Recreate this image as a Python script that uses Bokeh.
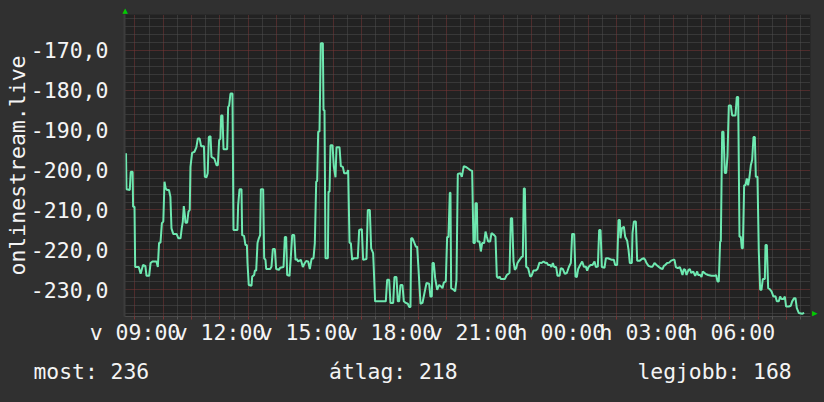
from bokeh.plotting import figure
from bokeh.models import FixedTicker, Range1d, Title, GlobalInlineStyleSheet
from bokeh.embed import file_html
from bokeh.resources import INLINE

# ---- data: minutes since 00:00 of the first day, and measured value ----
times = [
    521, 522, 529, 531, 535, 536, 539, 540.4, 548, 552,
    557, 562, 564.4, 570, 573, 577, 585.5, 588.4, 591, 594,
    597, 600, 602.5, 605, 608, 612, 615, 617.3, 621, 628,
    632, 636.4, 639, 641.3, 643.4, 645.6, 647, 650.5, 653.3, 656,
    657.5, 661, 666, 670, 673, 677, 680, 686, 688, 691.5,
    694, 696.4, 700, 702, 708, 712.6, 715.5, 718.3, 721, 722.5,
    725.3, 727.5, 735.2, 737.3, 739.5, 742.3, 746.5, 748.6, 757, 758.5,
    761.4, 765.6, 767, 771, 774, 777, 778.3, 781, 786.8, 788.2,
    792.4, 793.9, 796.7, 799.5, 802.3, 805.1, 806.6, 811.5, 813.6, 816.4,
    817.9, 826.3, 829.1, 832, 836.2, 839, 844.7, 847.5, 854.6, 857.4,
    860.2, 862.3, 867.3, 870.1, 873, 877.2, 880, 882.8, 885.6, 891.3,
    895.5, 899.7, 902.6, 906.8, 910.3, 913.9, 918.1, 920.9, 923.8, 925.9,
    928, 930.8, 933.6, 937.9, 939.3, 941.4, 943.5, 948.5, 949.9, 952,
    954.1, 958.4, 961.2, 964.7, 966.8, 973.2, 976, 980.2, 983.1, 988.7,
    991.5, 994.4, 997.2, 1000, 1003.5, 1011.9, 1014.8, 1020.4, 1023.2, 1030.3,
    1033.1, 1037.4, 1040.2, 1044.4, 1048.6, 1071.2, 1074.1, 1078.3, 1081.1, 1086.8,
    1089.6, 1093.8, 1096.7, 1099.5, 1102.3, 1106.5, 1109.4, 1113.6, 1117.8, 1120.7,
    1123.5, 1124.9, 1127.7, 1130.5, 1134.8, 1137.6, 1140.4, 1144.7, 1148.9, 1153.1,
    1157.4, 1163, 1165.8, 1168.7, 1170.1, 1172.9, 1175.8, 1180, 1184.2, 1187,
    1191.3, 1194.1, 1198.3, 1201.1, 1203.9, 1206.8, 1208.2, 1209.6, 1215.3, 1218.1,
    1220.9, 1223.7, 1229.4, 1232.2, 1236.4, 1240.7, 1245.6, 1249.9, 1254.1, 1256.9,
    1259.8, 1261.2, 1264, 1265.4, 1269.7, 1272.5, 1275.3, 1279.5, 1282.4, 1285.2,
    1288, 1292.2, 1295.1, 1300.7, 1303.5, 1306.4, 1309.2, 1312, 1314.8, 1323.3,
    1327.5, 1333.2, 1336, 1338.8, 1341.7, 1344.5, 1347.3, 1350.1, 1354.4, 1358.6,
    1361.4, 1363.5, 1365.7, 1368.5, 1372.7, 1377, 1379.8, 1384, 1388.3, 1392.5,
    1396.7, 1401, 1405.2, 1409.4, 1412.3, 1415.1, 1419.3, 1422.1, 1425, 1427.8,
    1432, 1434.9, 1439.1, 1441.9, 1446.2, 1450.4, 1454.6, 1458.9, 1463.1, 1465.9,
    1470.2, 1473, 1475.8, 1478.6, 1482.9, 1487.1, 1490.7, 1494.9, 1497.7, 1500.5,
    1504.8, 1509, 1513.3, 1516.1, 1520.3, 1523.1, 1526, 1528.8, 1534.4, 1537.3,
    1541.5, 1545.7, 1550, 1554.2, 1557, 1561.2, 1564.1, 1566.9, 1568.3, 1571.1,
    1575.4, 1578.2, 1582.4, 1585.3, 1588.1, 1592.3, 1593.7, 1596.6, 1600.8, 1603.6,
    1609.3, 1613.5, 1617.7, 1620.6, 1623.4, 1627.6, 1631.9, 1636.1, 1640.3, 1644.6,
    1648.8, 1653, 1657.3, 1660.1, 1662.9, 1667.2, 1671.4, 1675.6, 1679.9, 1682.7,
    1685.5, 1689.8, 1694, 1696.8, 1699.6, 1702.5, 1705.3, 1708.1, 1712.3, 1715.2,
    1718, 1722.2, 1726.5, 1730.7, 1732.8, 1737, 1739.8, 1742.6, 1748.3, 1753.9,
    1761, 1768, 1770.9, 1773.7, 1776.5, 1779.3, 1780.8, 1783.6, 1786.4, 1789.2,
    1792.1, 1794.9, 1797.7, 1801.9, 1804.8, 1811.8, 1814.6, 1817.5, 1820.3, 1823.1,
    1825.2, 1827.4, 1830.2, 1833, 1835.8, 1838.6, 1841.5, 1844.3, 1847.1, 1850,
    1852.8, 1854.9, 1858.4, 1861.2, 1864.1, 1866.9, 1869.7, 1874, 1875.4, 1878.2,
    1881, 1883.8, 1888.1, 1892.3, 1896.5, 1899.4, 1903.6, 1906.4, 1909.2, 1913.5,
    1916.3, 1919.1, 1924.8, 1929, 1931.8, 1936.1, 1938.9, 1941.7, 1945.9, 1953,
    1957.3,
]
values = [
    -195.8, -204.8, -205.0, -200.4, -200.4, -209.2, -209.2, -224.3, -224.3, -226.0,
    -223.8, -224.0, -226.5, -226.5, -223.3, -222.9, -222.9, -224.3, -218.2, -218.2,
    -213.3, -212.9, -202.9, -204.6, -205.0, -205.0, -206.7, -214.6, -216.0, -216.0,
    -217.1, -217.1, -214.6, -212.9, -209.0, -211.3, -213.2, -213.2, -210.4, -210.0,
    -199.2, -195.7, -195.4, -194.3, -192.1, -192.1, -194.0, -194.0, -201.7, -201.8,
    -200.8, -191.7, -191.5, -196.7, -197.1, -198.8, -198.8, -192.5, -192.1, -186.3,
    -186.3, -194.8, -194.8, -184.2, -183.8, -180.8, -180.8, -215.0, -215.0, -208.8,
    -204.8, -204.8, -216.3, -216.5, -218.8, -218.8, -223.3, -228.8, -229.0, -226.7,
    -226.3, -225.2, -225.2, -218.3, -217.1, -216.3, -204.8, -204.8, -222.1, -222.5,
    -224.8, -224.8, -224.2, -219.8, -219.8, -224.8, -225.0, -224.5, -224.3, -216.8,
    -216.8, -226.3, -226.5, -221.7, -216.3, -216.3, -222.5, -222.3, -222.9, -222.5,
    -224.3, -223.3, -222.8, -222.9, -224.8, -222.3, -222.1, -218.3, -202.9, -202.7,
    -190.4, -190.3, -168.2, -168.2, -185.0, -185.0, -222.1, -222.1, -205.4, -205.4,
    -193.8, -193.8, -199.2, -201.8, -194.3, -194.3, -199.0, -199.2, -200.8, -200.8,
    -200.0, -218.2, -218.3, -222.5, -222.1, -222.1, -215.0, -214.8, -222.5, -222.3,
    -210.0, -210.0, -219.6, -220.8, -232.9, -232.9, -227.5, -227.5, -233.3, -233.3,
    -226.8, -226.8, -232.9, -232.9, -228.8, -228.8, -232.9, -233.3, -233.5, -234.3,
    -234.3, -217.1, -217.1, -217.9, -219.2, -219.2, -224.6, -233.5, -233.3, -230.8,
    -228.3, -228.5, -231.7, -231.7, -223.3, -223.3, -227.1, -230.0, -228.8, -229.0,
    -229.6, -228.2, -227.9, -216.8, -216.8, -205.7, -205.7, -229.6, -230.0, -230.4,
    -227.5, -201.0, -200.8, -201.7, -199.0, -199.2, -199.6, -200.0, -200.2, -218.3,
    -218.3, -208.3, -208.3, -217.9, -217.9, -220.4, -218.3, -218.3, -215.4, -216.7,
    -217.9, -217.9, -215.8, -216.3, -216.7, -226.7, -227.1, -226.7, -227.3, -227.3,
    -226.3, -225.8, -212.1, -212.1, -222.9, -225.0, -224.6, -223.3, -222.5, -221.8,
    -221.7, -204.6, -204.6, -224.2, -224.6, -226.7, -226.5, -225.2, -225.2, -224.8,
    -223.2, -223.3, -222.9, -223.3, -223.2, -223.8, -223.8, -224.3, -223.3, -224.3,
    -224.3, -226.5, -226.5, -224.6, -224.8, -226.0, -225.8, -224.3, -223.3, -216.0,
    -216.0, -226.7, -226.8, -224.8, -223.8, -222.9, -224.2, -224.2, -225.2, -224.3,
    -223.8, -223.8, -222.9, -224.3, -224.2, -215.0, -215.0, -224.3, -224.5, -222.1,
    -222.1, -222.3, -222.5, -222.5, -223.8, -223.8, -212.5, -212.5, -217.1, -214.6,
    -214.2, -216.7, -217.7, -220.0, -223.3, -223.3, -215.8, -212.9, -212.9, -222.7,
    -222.7, -222.3, -222.1, -222.5, -223.3, -224.0, -224.2, -224.2, -223.3, -223.8,
    -224.2, -224.6, -224.8, -224.0, -223.8, -223.3, -223.2, -222.7, -222.5, -222.5,
    -224.3, -224.6, -224.3, -225.2, -226.3, -224.8, -225.0, -226.3, -225.0, -224.8,
    -225.8, -225.4, -226.5, -225.4, -226.3, -226.3, -226.8, -225.4, -226.0, -226.3,
    -226.5, -226.5, -226.3, -227.9, -227.9, -217.9, -217.9, -190.4, -190.4, -200.7,
    -200.7, -196.5, -183.8, -183.8, -186.3, -186.3, -181.7, -181.7, -216.7, -216.7,
    -219.6, -219.6, -203.8, -203.8, -202.1, -203.8, -201.7, -198.8, -197.5, -191.7,
    -191.7, -201.7, -201.7, -220.4, -230.0, -230.0, -227.3, -227.3, -218.8, -218.8,
    -229.6, -229.8, -230.4, -231.7, -231.6, -232.9, -232.9, -231.7, -232.3, -232.3,
    -231.7, -234.2, -234.2, -234.0, -232.9, -232.1, -232.1, -234.6, -235.8, -236.0,
    -235.8,
]

# ---- tick labels and texts ----
x_label_ticks = [540, 720, 900, 1080, 1260, 1440, 1620, 1800]
x_label_texts = ["v 09:00", "v 12:00", "v 15:00", "v 18:00", "v 21:00",
                 "h 00:00", "h 03:00", "h 06:00"]
y_label_ticks = [-230, -220, -210, -200, -190, -180, -170]
y_label_texts = ["-230,0", "-220,0", "-210,0", "-200,0", "-190,0", "-180,0", "-170,0"]
y_title = "onlinestream.live"
legend_texts = ["most: 236", "átlag: 218", "legjobb: 168"]

# ---- layout ----
W, H = 824, 402
FL, FR, FT, FB = 124, 14, 14, 86
X0, X1 = 517.8, 1970.7
Y0, Y1 = -236.7, -161.0
FONT = "DejaVu Sans Mono"
FS = "21.5px"
TXT = "#f4f4f4"
BG = "#303030"
ARROW = "#00cc00"

p = figure(width=W, height=H, x_range=Range1d(X0, X1), y_range=Range1d(Y0, Y1),
           output_backend="svg", toolbar_location=None,
           min_border_left=FL, min_border_right=FR,
           min_border_top=FT, min_border_bottom=FB)
p.background_fill_color = "#222222"
p.border_fill_color = BG
p.outline_line_color = None
p.stylesheets = [GlobalInlineStyleSheet(css="body { background-color: %s; }" % BG)]

hour_ticks = list(range(540, 1971, 60))
half_ticks = list(range(570, 1971, 60))
y_major = list(range(-230, -160, 10))
y_minor = [v for v in range(-236, -160, 2) if v % 10 != 0]

p.xgrid.ticker = FixedTicker(ticks=hour_ticks, minor_ticks=half_ticks)
p.ygrid.ticker = FixedTicker(ticks=y_major, minor_ticks=y_minor)
for g in (p.xgrid, p.ygrid):
    g.grid_line_color = "#7c3636"
    g.grid_line_dash = "1 1"
    g.grid_line_width = 1
    g.minor_grid_line_color = "#4e4e4e"
    g.minor_grid_line_dash = "1 1"
    g.minor_grid_line_width = 1

xa = p.xaxis[0]
xa.ticker = FixedTicker(ticks=hour_ticks, minor_ticks=half_ticks)
lab = dict(zip(x_label_ticks, x_label_texts))
xa.major_label_overrides = {t: lab.get(t, "") for t in hour_ticks}
xa.major_tick_in = 0
xa.major_tick_out = 3
xa.major_tick_line_color = "#7a3434"
xa.minor_tick_in = 0
xa.minor_tick_out = 3
xa.minor_tick_line_color = "#555555"
xa.axis_line_color = "#4a4a4a"
xa.major_label_standoff = 0

ya = p.yaxis[0]
ya.ticker = FixedTicker(ticks=y_label_ticks)
ya.major_label_overrides = dict(zip(y_label_ticks, y_label_texts))
ya.major_tick_out = 0
ya.major_tick_in = 0
ya.minor_tick_out = 0
ya.minor_tick_in = 0
ya.axis_line_color = "#3c3c3c"
ya.axis_line_width = 2
ya.major_label_standoff = 16
ya.axis_label = y_title
ya.axis_label_standoff = -2
ya.axis_label_text_font = FONT
ya.axis_label_text_font_size = FS
ya.axis_label_text_font_style = "normal"
ya.axis_label_text_color = TXT

for ax in (xa, ya):
    ax.major_label_text_font = FONT
    ax.major_label_text_font_size = FS
    ax.major_label_text_color = TXT

p.line(times, values, line_color="#6ee8b0", line_width=2)

# legend row below the x axis (monospace columns separated by no-break spaces)
NB = "\u00a0"
legend_line = legend_texts[0] + NB * 14 + legend_texts[1] + NB * 14 + legend_texts[2]
p.add_layout(Title(text=legend_line, align="left", offset=33 - FL, standoff=19,
                   text_font=FONT, text_font_size="21.35px", text_font_style="normal",
                   text_color=TXT), "below")

# small green arrows at the axis ends
p.add_layout(Title(text="▲", align="left", offset=-2, standoff=0,
                   text_font="DejaVu Sans", text_font_size="7px",
                   text_font_style="normal", text_color=ARROW), "above")
p.add_layout(Title(text="▲", align="right", offset=0, standoff=0,
                   text_font="DejaVu Sans", text_font_size="7px",
                   text_font_style="normal", text_color=ARROW), "right")

open("out.html", "w").write(file_html(p, INLINE))
